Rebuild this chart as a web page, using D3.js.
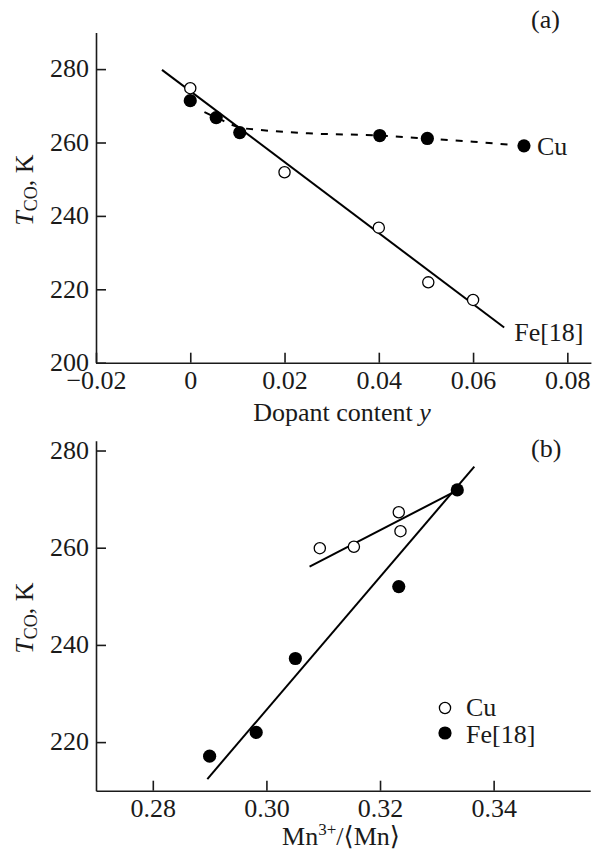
<!DOCTYPE html>
<html>
<head>
<meta charset="utf-8">
<script src="https://cdn.jsdelivr.net/npm/d3@7"></script>
<style>
body { margin: 0; background: #fff; }
svg { display: block; }
</style>
</head>
<body>
<svg id="chart" width="598" height="851"></svg>
<script>
/* panel (a): T_CO vs dopant content y */
var openA_x = [0, 0.02, 0.04, 0.0505, 0.06];
var openA_y = [274.8, 251.9, 236.8, 221.9, 217.1];
var fillA_x = [0, 0.0055, 0.0105, 0.0402, 0.0503, 0.0708];
var fillA_y = [271.4, 266.8, 262.7, 261.9, 261.1, 259.1];
var lineA_x = [-0.006, 0.0666];          // solid fit, Fe[18]
var lineA_y = [279.8, 209.6];
var curveA_x = [0.003, 0.0055, 0.0105, 0.015, 0.025, 0.04, 0.05, 0.06, 0.0685];   // dashed, Cu
var curveA_y = [268.3, 266.8, 264.1, 263.4, 262.5, 261.9, 261.1, 260.2, 259.3];
var xTicksA = [-0.02, 0, 0.02, 0.04, 0.06, 0.08];
var xLabelsA = ["\u22120.02", "0", "0.02", "0.04", "0.06", "0.08"];
var yTicksA = [200, 220, 240, 260, 280];

/* panel (b): T_CO vs Mn3+/<Mn> */
var openB_x = [0.3094, 0.3154, 0.3233, 0.3236];   // Cu
var openB_y = [259.9, 260.2, 267.3, 263.4];
var fillB_x = [0.2900, 0.2982, 0.3051, 0.3233, 0.3336];   // Fe[18]
var fillB_y = [217.1, 222.0, 237.2, 252.0, 271.9];
var lineBfe_x = [0.2896, 0.3366];
var lineBfe_y = [212.4, 276.7];
var lineBcu_x = [0.3076, 0.3334];
var lineBcu_y = [256.1, 271.7];
var xTicksB = [0.28, 0.30, 0.32, 0.34];
var yTicksB = [220, 240, 260, 280];

var svg = d3.select("#chart");
var FS = 26;
var FONT = '"Liberation Serif", "Times New Roman", "DejaVu Serif", serif';

function zip(xs, ys){
	var out = [];
	for (var i = 0; i < xs.length; i++) out.push([xs[i], ys[i]]);
	return out;
}

function drawAxes(x, y, xt, xl, yt){
	var gx = svg.append("g")
		.attr("transform", "translate(0," + y.range()[0] + ")")
		.call(d3.axisBottom(x).tickValues(xt).tickSizeInner(-10).tickSizeOuter(0).tickPadding(8)
			.tickFormat(function(d, i){ return xl ? xl[i] : d3.format(".2f")(d); }));
	var gy = svg.append("g")
		.attr("transform", "translate(" + x.range()[0] + ",0)")
		.call(d3.axisLeft(y).tickValues(yt).tickSizeInner(-10).tickSizeOuter(0).tickPadding(7));
	[gx, gy].forEach(function(g){
		g.attr("font-family", null).attr("font-size", null);
		g.selectAll("path, line").attr("stroke", "#1a1a1a").attr("stroke-width", 1.6);
		g.selectAll("text").attr("font-size", FS);
	});
	gy.selectAll("text").attr("dy", "0.3em");
}

function yLabel(cx, cy){
	var t = svg.append("text")
		.attr("transform", "translate(" + cx + "," + cy + ")rotate(-90)")
		.attr("text-anchor", "middle")
		.attr("font-size", FS);
	t.append("tspan").attr("font-style", "italic").text("T");
	t.append("tspan").attr("font-size", 18).attr("dy", 4).text("CO");
	t.append("tspan").attr("dy", -4).text(", K");
}

function dots(x, y, pts, filled){
	svg.append("g").selectAll("circle").data(pts).enter().append("circle")
		.attr("cx", function(d){ return x(d[0]); })
		.attr("cy", function(d){ return y(d[1]); })
		.attr("r", filled ? 6.6 : 5.6)
		.attr("fill", filled ? "#000" : "#fff")
		.attr("stroke", "#000")
		.attr("stroke-width", filled ? 0 : 1.3);
}

/* ---------- panel (a) ---------- */
var xA = d3.scaleLinear().domain([-0.02, 0.085]).range([96, 590.9]);
var yA = d3.scaleLinear().domain([200, 290]).range([362.7, 32.4]);
drawAxes(xA, yA, xTicksA, xLabelsA, yTicksA);

var lineA = d3.line().x(function(d){ return xA(d[0]); }).y(function(d){ return yA(d[1]); });
svg.append("path").datum(zip(lineA_x, lineA_y))
	.attr("d", lineA).attr("fill", "none").attr("stroke", "#000").attr("stroke-width", 2);
svg.append("path").datum(zip(curveA_x, curveA_y))
	.attr("d", lineA.curve(d3.curveMonotoneX)).attr("fill", "none")
	.attr("stroke", "#000").attr("stroke-width", 2).attr("stroke-dasharray", "7,8");
dots(xA, yA, zip(openA_x, openA_y), false);
dots(xA, yA, zip(fillA_x, fillA_y), true);

svg.append("text").attr("x", xA(fillA_x[5]) + 13).attr("y", yA(fillA_y[5]) + 9)
	.attr("font-size", FS).text("Cu");
svg.append("text").attr("x", xA(lineA_x[1]) + 10).attr("y", yA(lineA_y[1]) + 14)
	.attr("font-size", FS).text("Fe[18]");
svg.append("text").attr("x", 531).attr("y", 28).attr("font-size", FS).text("(a)");

yLabel(33, 190);
var xl = svg.append("text").attr("x", 342).attr("y", 421)
	.attr("text-anchor", "middle").attr("font-size", FS);
xl.append("tspan").text("Dopant content ");
xl.append("tspan").attr("font-style", "italic").text("y");

/* ---------- panel (b) ---------- */
var xB = d3.scaleLinear().domain([0.27, 0.357]).range([96, 590.2]);
var yB = d3.scaleLinear().domain([210, 282]).range([790.7, 440.8]);
drawAxes(xB, yB, xTicksB, null, yTicksB);

var lineB = d3.line().x(function(d){ return xB(d[0]); }).y(function(d){ return yB(d[1]); });
svg.append("path").datum(zip(lineBfe_x, lineBfe_y))
	.attr("d", lineB).attr("fill", "none").attr("stroke", "#000").attr("stroke-width", 2);
svg.append("path").datum(zip(lineBcu_x, lineBcu_y))
	.attr("d", lineB).attr("fill", "none").attr("stroke", "#000").attr("stroke-width", 2);
dots(xB, yB, zip(openB_x, openB_y), false);
dots(xB, yB, zip(fillB_x, fillB_y), true);

svg.append("text").attr("x", 531).attr("y", 457).attr("font-size", FS).text("(b)");

// legend
var leg = svg.append("g").attr("transform", "translate(445,708)");
leg.append("circle").attr("cx", 0).attr("cy", 0).attr("r", 5.6)
	.attr("fill", "#fff").attr("stroke", "#000").attr("stroke-width", 1.3);
leg.append("text").attr("x", 21).attr("y", 8).attr("font-size", FS).text("Cu");
leg.append("circle").attr("cx", 0).attr("cy", 25).attr("r", 6.6).attr("fill", "#000");
leg.append("text").attr("x", 21).attr("y", 35).attr("font-size", FS).text("Fe[18]");

yLabel(33, 618);
var ml = svg.append("text").attr("x", 341).attr("y", 845)
	.attr("text-anchor", "middle").attr("font-size", FS);
ml.append("tspan").text("Mn");
ml.append("tspan").attr("font-size", 17).attr("dy", -10).text("3+");
ml.append("tspan").attr("dy", 10).text("/\u27E8Mn\u27E9");

svg.selectAll("text").style("font-family", FONT).style("fill", "#1a1a1a");
</script>
</body>
</html>
